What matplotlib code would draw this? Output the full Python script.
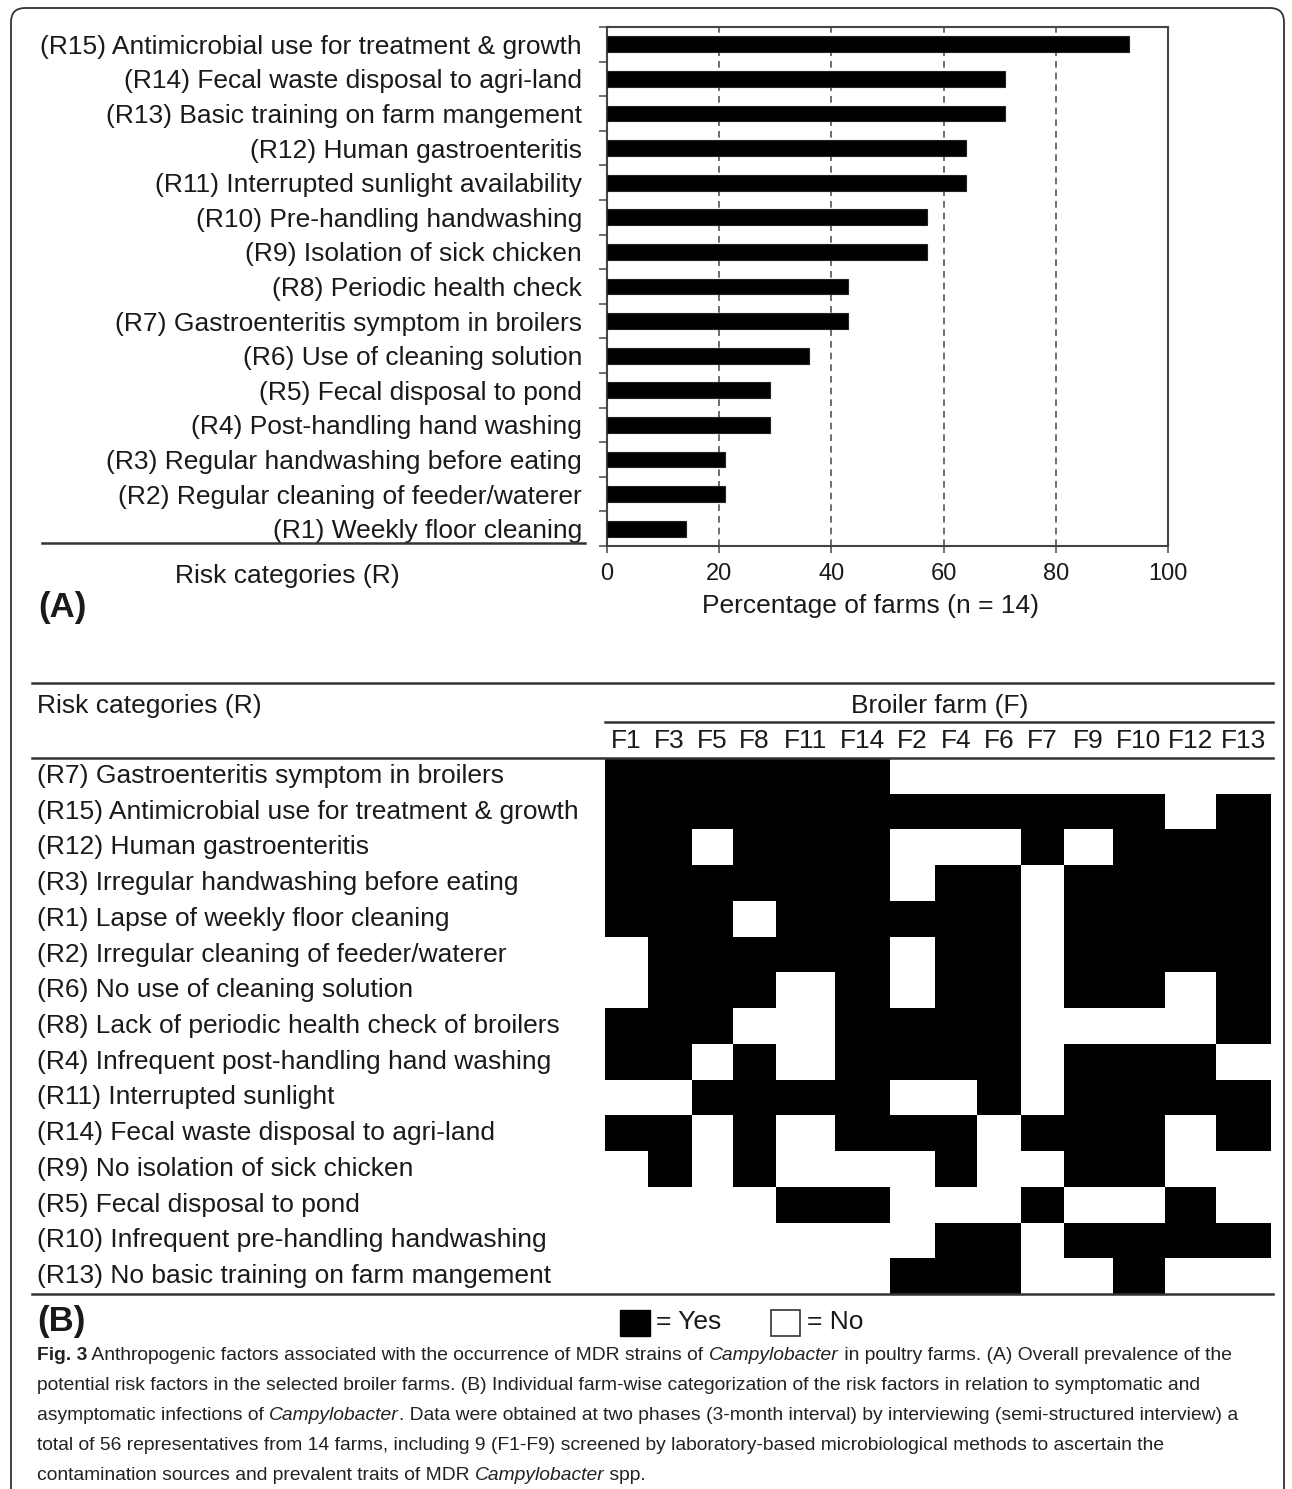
import numpy as np
import matplotlib
matplotlib.use("Agg")
import matplotlib.pyplot as plt
from matplotlib.colors import ListedColormap
from matplotlib.patches import FancyBboxPatch, Rectangle
from matplotlib.lines import Line2D
from matplotlib import font_manager
import matplotlib.transforms as mtrans

# ---- panel A : prevalence of risk factors (top to bottom) ----
bar_labels = [
    "(R15) Antimicrobial use for treatment & growth",
    "(R14) Fecal waste disposal to agri-land",
    "(R13) Basic training on farm mangement",
    "(R12) Human gastroenteritis",
    "(R11) Interrupted sunlight availability",
    "(R10) Pre-handling handwashing",
    "(R9) Isolation of sick chicken",
    "(R8) Periodic health check",
    "(R7) Gastroenteritis symptom in broilers",
    "(R6) Use of cleaning solution",
    "(R5) Fecal disposal to pond",
    "(R4) Post-handling hand washing",
    "(R3) Regular handwashing before eating",
    "(R2) Regular cleaning of feeder/waterer",
    "(R1) Weekly floor cleaning",
]
bar_pct = [93, 71, 71, 64, 64, 57, 57, 43, 43, 36, 29, 29, 21, 21, 14]

# ---- panel B : farm-wise yes/no matrix ----
farms = ["F1", "F3", "F5", "F8", "F11", "F14", "F2", "F4", "F6", "F7",
         "F9", "F10", "F12", "F13"]
risk_rows = [
    "(R7) Gastroenteritis symptom in broilers",
    "(R15) Antimicrobial use for treatment & growth",
    "(R12) Human gastroenteritis",
    "(R3) Irregular handwashing before eating",
    "(R1) Lapse of weekly floor cleaning",
    "(R2) Irregular cleaning of feeder/waterer",
    "(R6) No use of cleaning solution",
    "(R8) Lack of periodic health check of broilers",
    "(R4) Infrequent post-handling hand washing",
    "(R11) Interrupted sunlight",
    "(R14) Fecal waste disposal to agri-land",
    "(R9) No isolation of sick chicken",
    "(R5) Fecal disposal to pond",
    "(R10) Infrequent pre-handling handwashing",
    "(R13) No basic training on farm mangement",
]
presence = [
    [1, 1, 1, 1, 1, 1, 0, 0, 0, 0, 0, 0, 0, 0],
    [1, 1, 1, 1, 1, 1, 1, 1, 1, 1, 1, 1, 0, 1],
    [1, 1, 0, 1, 1, 1, 0, 0, 0, 1, 0, 1, 1, 1],
    [1, 1, 1, 1, 1, 1, 0, 1, 1, 0, 1, 1, 1, 1],
    [1, 1, 1, 0, 1, 1, 1, 1, 1, 0, 1, 1, 1, 1],
    [0, 1, 1, 1, 1, 1, 0, 1, 1, 0, 1, 1, 1, 1],
    [0, 1, 1, 1, 0, 1, 0, 1, 1, 0, 1, 1, 0, 1],
    [1, 1, 1, 0, 0, 1, 1, 1, 1, 0, 0, 0, 0, 1],
    [1, 1, 0, 1, 0, 1, 1, 1, 1, 0, 1, 1, 1, 0],
    [0, 0, 1, 1, 1, 1, 0, 0, 1, 0, 1, 1, 1, 1],
    [1, 1, 0, 1, 0, 1, 1, 1, 0, 1, 1, 1, 0, 1],
    [0, 1, 0, 1, 0, 0, 0, 1, 0, 0, 1, 1, 0, 0],
    [0, 0, 0, 0, 1, 1, 0, 0, 0, 1, 0, 0, 1, 0],
    [0, 0, 0, 0, 0, 0, 0, 1, 1, 0, 1, 1, 1, 1],
    [0, 0, 0, 0, 0, 0, 1, 1, 1, 0, 0, 1, 0, 0],
]
# relative column widths as drawn in the original table
col_w = [98, 102, 95, 100, 135, 128, 102, 98, 100, 100, 112, 120, 118, 127]

caption_lines = [
    [("Fig. 3", "bold"),
     (" Anthropogenic factors associated with the occurrence of MDR strains of ", "normal"),
     ("Campylobacter", "italic"),
     (" in poultry farms. (A) Overall prevalence of the", "normal")],
    [("potential risk factors in the selected broiler farms. (B) Individual farm-wise "
      "categorization of the risk factors in relation to symptomatic and", "normal")],
    [("asymptomatic infections of ", "normal"), ("Campylobacter", "italic"),
     (". Data were obtained at two phases (3-month interval) by interviewing "
      "(semi-structured interview) a", "normal")],
    [("total of 56 representatives from 14 farms, including 9 (F1-F9) screened by "
      "laboratory-based microbiological methods to ascertain the", "normal")],
    [("contamination sources and prevalent traits of MDR ", "normal"),
     ("Campylobacter", "italic"), (" spp.", "normal")],
]

# fonts
names = {f.name for f in font_manager.fontManager.ttflist}
NARROW = "Liberation Sans Narrow" if "Liberation Sans Narrow" in names else "Liberation Sans"
plt.rcParams["font.family"] = [NARROW, "DejaVu Sans"]
TXT = "#1a1a1a"

W, H = 1292, 1489
fig = plt.figure(figsize=(W / 100, H / 100), dpi=100)


def box(l, t, r, b):
    return [l / W, 1 - b / H, (r - l) / W, (b - t) / H]


def fx(px):
    return px / W


def fy(py):
    return 1 - py / H


def hline(x0, x1, yy, lw=1.8):
    fig.add_artist(Line2D([fx(x0), fx(x1)], [fy(yy), fy(yy)], transform=fig.transFigure,
                          color="#333333", lw=lw))


# outer rounded frame
fig.add_artist(FancyBboxPatch((0.11, -0.3), 12.73, 15.11, boxstyle="round,pad=0,rounding_size=0.14",
                              transform=fig.dpi_scale_trans, fill=False, ec="#333333", lw=1.3))

# ===== panel A =====
axA = fig.add_axes(box(607, 27, 1168, 546))
ypos = np.arange(len(bar_labels))[::-1]
axA.barh(ypos, bar_pct, height=0.46, color="black", edgecolor="#222222", linewidth=0.8, zorder=3)
for v in [20, 40, 60, 80]:
    axA.axvline(v, color="#555555", ls=(0, (4, 3)), lw=1.2, zorder=1)
axA.set_xlim(0, 100)
axA.set_ylim(-0.5, 14.5)
axA.set_xticks(range(0, 101, 20))
axA.set_yticks(ypos)
axA.set_yticklabels(bar_labels, color=TXT)
axA.set_yticks(np.arange(-0.5, 14.6, 1), minor=True)
axA.tick_params(axis="y", which="major", length=0, pad=18, labelsize=19)
axA.tick_params(axis="y", which="minor", length=6, width=1.2, color="#555555")
axA.tick_params(axis="x", length=5, width=1.2, color="#555555", labelsize=17, pad=7,
                labelcolor=TXT)
for sp in axA.spines.values():
    sp.set_color("#444444")
    sp.set_linewidth(1.5)

hline(42, 585, 543)
fig.text(fx(287), fy(576), "Risk categories (R)", ha="center", va="center", fontsize=19, color=TXT)
fig.text(fx(870), fy(606), "Percentage of farms (n = 14)", ha="center", va="center",
         fontsize=19, color=TXT)
fig.text(fx(38), fy(607), "(A)", ha="left", va="center", fontsize=25, fontweight="bold", color=TXT)

# ===== panel B =====
axB = fig.add_axes(box(605, 758, 1271, 1294))
xe = np.concatenate([[0], np.cumsum(col_w)])
ye = np.arange(len(risk_rows) + 1)
axB.pcolormesh(xe, ye, np.array(presence), cmap=ListedColormap(["white", "black"]),
               vmin=0, vmax=1, edgecolors="none", antialiased=False)
axB.set_xlim(xe[0], xe[-1])
axB.set_ylim(len(risk_rows), 0)
axB.axis("off")

col_tr = mtrans.blended_transform_factory(axB.transData, fig.transFigure)
for i, f in enumerate(farms):
    axB.text((xe[i] + xe[i + 1]) / 2, fy(741), f, transform=col_tr, ha="center", va="center",
             fontsize=19, color=TXT)
row_tr = mtrans.blended_transform_factory(fig.transFigure, axB.transData)
for j, r in enumerate(risk_rows):
    axB.text(fx(37), j + 0.5, r, transform=row_tr, ha="left", va="center", fontsize=19, color=TXT)

hline(32, 1273, 683)
hline(605, 1273, 722)
hline(32, 1273, 758)
hline(32, 1273, 1294)
fig.text(fx(37), fy(706), "Risk categories (R)", ha="left", va="center", fontsize=19, color=TXT)
fig.text(fx(940), fy(706), "Broiler farm (F)", ha="center", va="center", fontsize=19, color=TXT)
fig.text(fx(37), fy(1322), "(B)", ha="left", va="center", fontsize=25, fontweight="bold", color=TXT)

# legend
fig.add_artist(Rectangle((6.20, (H - 1336) / 100), 0.30, 0.26, transform=fig.dpi_scale_trans,
                         fc="black", ec="black", lw=1))
fig.text(fx(656), fy(1322), "= Yes", ha="left", va="center", fontsize=19, color=TXT)
fig.add_artist(Rectangle((7.71, (H - 1336) / 100), 0.29, 0.26, transform=fig.dpi_scale_trans,
                         fc="white", ec="#333333", lw=1.2))
fig.text(fx(807), fy(1322), "= No", ha="left", va="center", fontsize=19, color=TXT)

# caption with mixed styles
renderer = fig.canvas.get_renderer()
line_y = [1355, 1385, 1415, 1445, 1475]
for segs, yy in zip(caption_lines, line_y):
    x = fx(37)
    for s, style in segs:
        kw = dict(fontsize=13.9, color="#222222", ha="left", va="center")
        if style == "bold":
            kw["fontweight"] = "bold"
        elif style == "italic":
            kw["fontstyle"] = "italic"
        t = fig.text(x, fy(yy), s, **kw)
        bb = t.get_window_extent(renderer)
        x = fig.transFigure.inverted().transform((bb.x1, 0))[0]

fig.savefig("out.png", dpi=100, facecolor="white")
